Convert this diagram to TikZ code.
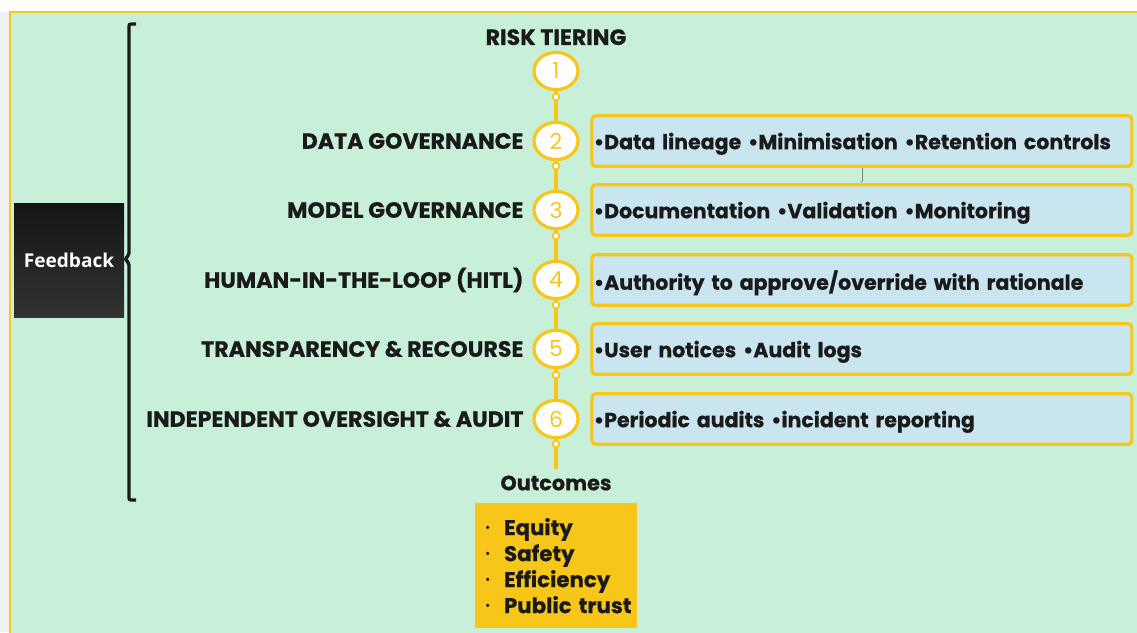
\documentclass[tikz,border=0pt]{standalone}
\usepackage{fontspec}
\setmainfont{Poppins}[BoldFeatures={FakeBold=0.6}]
\newfontfamily\fbfont{Open Sans}
\usetikzlibrary{arrows.meta, positioning, shapes.geometric}
\definecolor{bggreen}{RGB}{200,240,216}
\definecolor{tieryellow}{RGB}{247,198,24}
\definecolor{boxblue}{RGB}{200,229,240}
\definecolor{inkblack}{RGB}{26,26,26}
\tikzset{
  stepnum/.style = {ellipse, draw=tieryellow, fill=white, line width=2.4pt,
    minimum width=33pt, minimum height=28pt, inner sep=0pt, text=tieryellow,
    font=\fontsize{16.5}{16.5}\selectfont},% numbered step on the spine
  joint/.style = {circle, draw=tieryellow, fill=white, line width=1.3pt,
    minimum size=5pt, inner sep=0pt},% small ring below each step
  tierlabel/.style = {text=inkblack, inner sep=0pt,
    font=\bfseries\fontsize{16.6}{16.6}\selectfont},
  detailbox/.style = {draw=tieryellow, fill=boxblue, line width=2.4pt,
    rounded corners=3pt, minimum height=38pt, text width=402pt, align=left,
    inner xsep=1.5pt, inner ysep=0pt, text depth=0pt, text=inkblack,
    font=\bfseries\fontsize{15.4}{15.4}\selectfont},
  spine/.style = {draw=tieryellow, line width=2.4pt}
}
\newcommand{\outitem}[1]{\hspace{4pt}\makebox[14pt][l]{\raisebox{3.5pt}{\fontsize{7}{7}\selectfont•}}#1}

\begin{document}
\begin{tikzpicture}[x=0.75pt, y=-0.75pt]
  \useasboundingbox (0,0) rectangle (1137,632);
  % canvas
  \fill[black!6] (0,12) rectangle (10,632);
  \draw[draw=tieryellow, fill=bggreen, line width=2pt] (10,12) rectangle (1160,660);

  % spine of steps
  \node (c1) [stepnum] at (556,71) {1};
  \node (d1) [joint] at (556,97) {};
  \node (c2) [stepnum] at (556,141) {2};
  \node (d2) [joint] at (556,166) {};
  \node (c3) [stepnum] at (556,210) {3};
  \node (d3) [joint] at (556,236) {};
  \node (c4) [stepnum] at (556,280) {4};
  \node (d4) [joint] at (556,305) {};
  \node (c5) [stepnum] at (556,349) {5};
  \node (d5) [joint] at (556,375) {};
  \node (c6) [stepnum] at (556,419) {6};
  \node (d6) [joint] at (556,444) {};
  \node (outc) [tierlabel, font=\bfseries\fontsize{15.6}{15.6}\selectfont]
    at (556,483) {Outcomes};

  \draw[spine] (c1) -- (d1) -- (c2) -- (d2) -- (c3) -- (d3) -- (c4)
    -- (d4) -- (c5) -- (d5) -- (c6) -- (d6) -- ([yshift=5pt]outc.north);

  % step names
  \node (t1) [tierlabel, above=4pt of c1] {RISK TIERING};
  \node (t2) [tierlabel, left=6.5pt of c2] {DATA GOVERNANCE};
  \node (t3) [tierlabel, left=6.5pt of c3] {MODEL GOVERNANCE};
  \node (t4) [tierlabel, left=6.5pt of c4] {HUMAN-IN-THE-LOOP (HITL)};
  \node (t5) [tierlabel, left=6.5pt of c5] {TRANSPARENCY \& RECOURSE};
  \node (t6) [tierlabel, left=6.5pt of c6] {INDEPENDENT OVERSIGHT \& AUDIT};

  % details
  \node (b2) [detailbox, right=8pt of c2] {•Data lineage •Minimisation •Retention controls};
  \node (b3) [detailbox, right=8pt of c3] {•Documentation •Validation •Monitoring};
  \node (b4) [detailbox, right=8pt of c4] {•Authority to approve/override with rationale};
  \node (b5) [detailbox, right=8pt of c5] {•User notices •Audit logs};
  \node (b6) [detailbox, right=8pt of c6] {•Periodic audits •incident reporting};
  \draw[gray, line width=0.3pt, -{Latex[length=1.5pt]}] (b2) -- (b3);

  % outcomes
  \node (outbox) [below=9pt of outc, fill=tieryellow, text=inkblack, align=left,
    minimum width=122pt, minimum height=94pt, text width=114pt, inner xsep=4pt,
    font=\bfseries\fontsize{16}{19.5}\selectfont]
    {\outitem{Equity}\\ \outitem{Safety}\\ \outitem{Efficiency}\\ \outitem{Public trust}};

  % feedback loop
  \node (fb) [top color=black!92, bottom color=black!80, text=white,
    minimum width=82.5pt, minimum height=85.5pt,
    font=\fbfont\bfseries\fontsize{14.3}{14.3}\selectfont] at (69,260) {Feedback};
  \draw[inkblack, line width=2.5pt, rounded corners=1.5pt]
    (136,24) -| (129,255) -- (125,259) -- (129,263) |- (136,500);
\end{tikzpicture}
\end{document}
